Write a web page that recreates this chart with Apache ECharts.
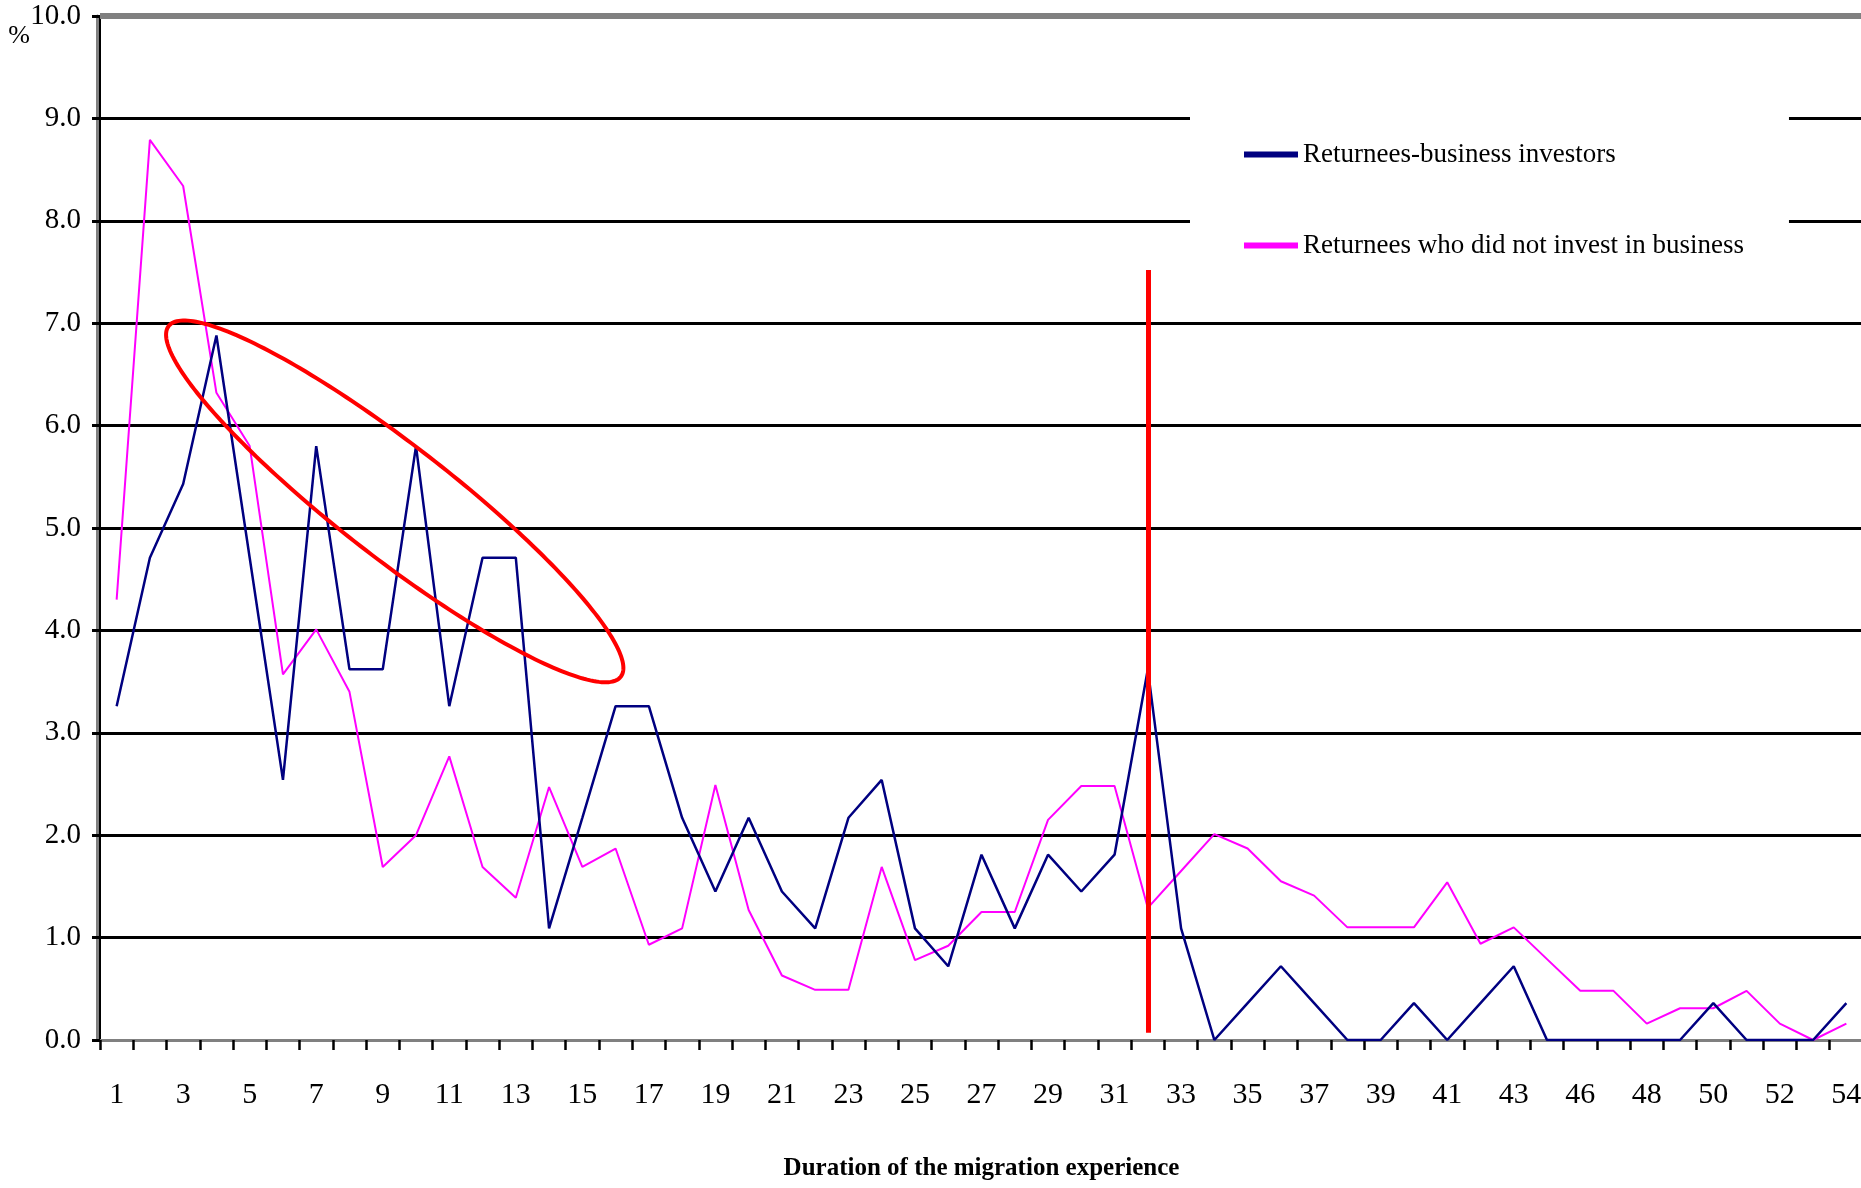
<!DOCTYPE html>
<html>
<head>
<meta charset="utf-8">
<script src="https://cdn.jsdelivr.net/npm/echarts@6/dist/echarts.min.js"></script>
<style>
html, body { margin: 0; padding: 0; background: #ffffff; }
#chart { width: 1861px; height: 1188px; }
</style>
</head>
<body>
<div id="chart"></div>
<script>
// ---- data ----
const categories = ['1','2','3','4','5','6','7','8','9','10',
  '11','12','13','14','15','16','17','18','19','20',
  '21','22','23','24','25','26','27','28','29','30',
  '31','32','33','34','35','36','37','38','39','40',
  '41','42','43','44','46','47','48','49','50','51',
  '52','53','54'];

const investors = [3.26, 4.71, 5.43, 6.88, 4.71, 2.54, 5.80, 3.62, 3.62, 5.80,
  3.26, 4.71, 4.71, 1.09, 2.17, 3.26, 3.26, 2.17, 1.45, 2.17,
  1.45, 1.09, 2.17, 2.54, 1.09, 0.72, 1.81, 1.09, 1.81, 1.45,
  1.81, 3.62, 1.09, 0.00, 0.36, 0.72, 0.36, 0.00, 0.00, 0.36,
  0.00, 0.36, 0.72, 0.00, 0.00, 0.00, 0.00, 0.00, 0.36, 0.00,
  0.00, 0.00, 0.36];

const nonInvestors = [4.30, 8.79, 8.34, 6.32, 5.80, 3.57, 4.01, 3.40, 1.69, 2.00,
  2.77, 1.69, 1.39, 2.47, 1.69, 1.87, 0.93, 1.09, 2.49, 1.27,
  0.63, 0.49, 0.49, 1.69, 0.78, 0.92, 1.25, 1.25, 2.15, 2.48,
  2.48, 1.29, 1.65, 2.01, 1.87, 1.55, 1.41, 1.10, 1.10, 1.10,
  1.54, 0.94, 1.10, 0.79, 0.48, 0.48, 0.16, 0.31, 0.31, 0.48,
  0.16, 0.00, 0.16];

const seriesNames = ['Returnees-business investors', 'Returnees who did not invest in business'];
const xAxisTitle = 'Duration of the migration experience';
const yAxisUnit = '%';
const yMin = 0, yMax = 10, yStep = 1;

// annotations
const markerCategory = '32';
const markerRange = [0.07, 7.52];
const ellipseAnchor = { fromCat: '9', toCat: '10', frac: 0.36, value: 5.26 };
const ellipseSemiMajorSteps = 8.6;   // in category widths
const ellipseSemiMinorUnits = 0.55;  // in y units
const ellipseTiltDeg = 37.8;

// ---- chart ----
const FONT = "'Liberation Serif', 'Times New Roman', serif";
const chart = echarts.init(document.getElementById('chart'), null, { renderer: 'canvas' });

const option = {
  backgroundColor: '#ffffff',
  animation: false,
  grid: { left: 100, right: -2, top: 16, bottom: 148, containLabel: false, outerBoundsMode: 'none' },
  legend: {
    data: seriesNames,
    orient: 'vertical',
    left: 1190,
    top: 105,
    icon: 'rect',
    itemWidth: 54,
    itemHeight: 6,
    itemGap: 64,
    padding: [36, 45, 20, 54],
    backgroundColor: '#ffffff',
    selectedMode: false,
    textStyle: { fontFamily: FONT, fontSize: 27, color: '#000000' }
  },
  xAxis: [
    {
      type: 'category',
      data: categories,
      boundaryGap: true,
      axisLine: { show: true, lineStyle: { color: '#000000', width: 3 } },
      axisTick: { show: true, interval: 0, alignWithLabel: false, length: 10, lineStyle: { color: '#000000', width: 2.5 } },
      axisLabel: { interval: 1, margin: 40, fontFamily: FONT, fontSize: 30, color: '#000000' },
      splitLine: { show: false },
      name: xAxisTitle,
      nameLocation: 'middle',
      nameGap: 116,
      nameMoveOverlap: false,
      nameTextStyle: { fontFamily: FONT, fontSize: 25, fontWeight: 'bold', color: '#000000' }
    },
    {
      type: 'category',
      data: categories,
      position: 'bottom',
      offset: 3,
      axisLine: { show: true, lineStyle: { color: '#808080', width: 3 } },
      axisTick: { show: false },
      axisLabel: { show: false },
      splitLine: { show: false }
    }
  ],
  yAxis: [
    {
      type: 'value',
      min: yMin, max: yMax, interval: yStep,
      axisLine: { show: true, lineStyle: { color: '#000000', width: 2 } },
      axisTick: { show: true, length: 8, lineStyle: { color: '#000000', width: 3 } },
      axisLabel: { margin: 19, fontFamily: FONT, fontSize: 29, color: '#000000', formatter: v => v.toFixed(1) },
      splitLine: { show: true, lineStyle: { color: '#000000', width: 3 } },
      name: yAxisUnit,
      nameLocation: 'end',
      nameGap: -20,
      nameMoveOverlap: false,
      nameTextStyle: { fontFamily: FONT, fontSize: 26, color: '#000000', align: 'right', verticalAlign: 'middle', padding: [0, 70, 0, 0] }
    },
    {
      type: 'value',
      min: yMin, max: yMax, interval: yStep,
      position: 'left',
      offset: 2.5,
      axisLine: { show: true, lineStyle: { color: '#808080', width: 3 } },
      axisTick: { show: false },
      axisLabel: { show: false },
      splitLine: { show: false }
    }
  ],
  series: [
    {
      name: seriesNames[0],
      type: 'line',
      data: investors,
      symbol: 'none',
      z: 3,
      lineStyle: { color: '#000080', width: 2.5 },
      itemStyle: { color: '#000080' },
      markLine: {
        silent: true,
        symbol: ['none', 'none'],
        label: { show: false },
        z: 6,
        lineStyle: { color: '#ff0000', width: 5, type: 'solid' },
        data: [
          [
            { coord: [markerCategory, markerRange[0]], lineStyle: { color: '#ff0000', width: 5, type: 'solid' } },
            { coord: [markerCategory, markerRange[1]] }
          ],
          { yAxis: yMax, lineStyle: { color: '#808080', width: 6, type: 'solid' } }
        ]
      }
    },
    {
      name: seriesNames[1],
      type: 'line',
      data: nonInvestors,
      symbol: 'none',
      z: 2,
      lineStyle: { color: '#ff00ff', width: 2 },
      itemStyle: { color: '#ff00ff' }
    }
  ]
};

chart.setOption(option);

// red ellipse annotation, placed through the axes
const pA = chart.convertToPixel({ gridIndex: 0 }, [ellipseAnchor.fromCat, ellipseAnchor.value]);
const pB = chart.convertToPixel({ gridIndex: 0 }, [ellipseAnchor.toCat, ellipseAnchor.value]);
const p0 = chart.convertToPixel({ gridIndex: 0 }, [ellipseAnchor.fromCat, 0]);
const p1 = chart.convertToPixel({ gridIndex: 0 }, [ellipseAnchor.fromCat, 1]);
const step = pB[0] - pA[0];
const unitY = p0[1] - p1[1];
const cx = pA[0] + ellipseAnchor.frac * step;
const cy = pA[1];
const rx = ellipseSemiMajorSteps * step;
const ry = ellipseSemiMinorUnits * unitY;
const th = ellipseTiltDeg * Math.PI / 180;
const pts = [];
for (let i = 0; i < 240; i++) {
  const t = (i / 240) * Math.PI * 2;
  const ex = rx * Math.cos(t), ey = ry * Math.sin(t);
  pts.push([cx + ex * Math.cos(th) - ey * Math.sin(th), cy + ex * Math.sin(th) + ey * Math.cos(th)]);
}
chart.setOption({
  graphic: [{
    type: 'polygon',
    silent: true,
    z: 100,
    shape: { points: pts },
    style: { fill: 'none', stroke: '#ff0000', lineWidth: 4 }
  }]
});
</script>
</body>
</html>
